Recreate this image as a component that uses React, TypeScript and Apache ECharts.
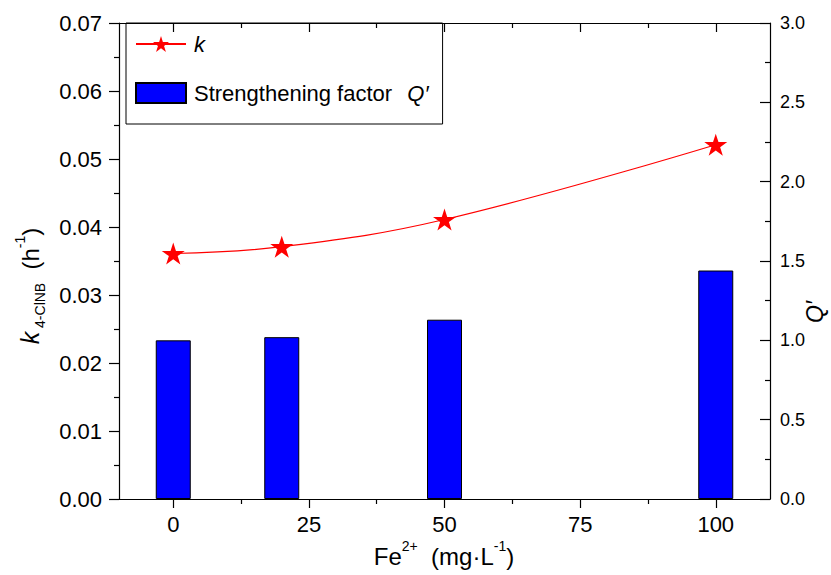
import React, { useEffect, useRef } from "react";
import * as echarts from "echarts";

const feConc = [0, 20, 50, 100];
const kValues = [0.0361, 0.0371, 0.0411, 0.0521];
const qValues = [1.0, 1.02, 1.13, 1.44];
const xMajorTicks = [0, 25, 50, 75, 100];
const xMinorTicks = [12.5, 37.5, 62.5, 87.5];

const FONT = 'Arial, "Liberation Sans", Helvetica, sans-serif';
const STAR =
  "path://M50 0L61.23 34.55L97.55 34.55L68.16 55.9L79.39 90.45L50 69.1L20.61 90.45L31.84 55.9L2.45 34.55L38.77 34.55Z";

export default function App() {
  const ref = useRef<HTMLDivElement>(null);
  useEffect(() => {
    if (!ref.current) return;
    const chart = echarts.init(ref.current, null, { renderer: "svg" });
    const baseX = {
      type: "value",
      min: -10,
      max: 110,
      gridIndex: 0,
      splitLine: { show: false },
    };
    chart.setOption({
      animation: false,
      backgroundColor: "#ffffff",
      grid: { left: 119, right: 61, top: 23, bottom: 76, containLabel: false },
      legend: {
        left: 126,
        top: 23,
        orient: "vertical",
        borderColor: "#000",
        borderWidth: 1,
        padding: [8, 14, 18, 9],
        itemGap: 23,
        itemWidth: 50,
        itemHeight: 20,
        data: [
          { name: "k" },
          { name: "Strengthening factor Q′", icon: "rect" },
        ],
        formatter: (name: string) =>
          name === "k" ? "{i|k}" : "{n|Strengthening factor  }{i|Q′}",
        textStyle: {
          fontFamily: FONT,
          fontSize: 22,
          color: "#000",
          lineHeight: 26,
          rich: {
            i: { fontFamily: FONT, fontSize: 22, fontStyle: "italic", color: "#000", padding: [0, 0, 0, 3] },
            n: { fontFamily: FONT, fontSize: 22, color: "#000", padding: [0, 0, 0, 3] },
          },
        },
      },
      xAxis: [
        {
          ...baseX,
          position: "bottom",
          axisLine: { show: true, onZero: false, lineStyle: { color: "#000", width: 1.2 } },
          axisTick: {
            show: true,
            inside: false,
            length: 9,
            customValues: xMajorTicks,
            lineStyle: { color: "#000", width: 1.2 },
          },
          axisLabel: {
            show: true,
            customValues: xMajorTicks,
            fontFamily: FONT,
            fontSize: 22,
            color: "#000",
            margin: 14,
          },
        },
        {
          ...baseX,
          position: "bottom",
          axisLine: { show: false, onZero: false },
          axisTick: {
            show: true,
            inside: false,
            length: 5,
            customValues: xMinorTicks,
            lineStyle: { color: "#000", width: 1.2 },
          },
          axisLabel: { show: false },
        },
        {
          ...baseX,
          position: "top",
          axisLine: { show: true, onZero: false, lineStyle: { color: "#000", width: 1.2 } },
          axisTick: {
            show: true,
            inside: true,
            length: 9,
            customValues: xMajorTicks,
            lineStyle: { color: "#000", width: 1.2 },
          },
          axisLabel: { show: false },
        },
        {
          ...baseX,
          position: "top",
          axisLine: { show: false, onZero: false },
          axisTick: {
            show: true,
            inside: true,
            length: 5,
            customValues: xMinorTicks,
            lineStyle: { color: "#000", width: 1.2 },
          },
          axisLabel: { show: false },
        },
      ],
      yAxis: [
        {
          type: "value",
          position: "left",
          min: 0,
          max: 0.07,
          interval: 0.01,
          splitLine: { show: false },
          axisLine: { show: true, onZero: false, lineStyle: { color: "#000", width: 1.2 } },
          axisTick: { show: true, inside: false, length: 10, lineStyle: { color: "#000", width: 1.2 } },
          minorTick: { show: true, splitNumber: 2, length: 5, lineStyle: { color: "#000", width: 1.2 } },
          minorSplitLine: { show: false },
          axisLabel: {
            fontFamily: FONT,
            fontSize: 22,
            color: "#000",
            margin: 17,
            formatter: (v: number) => v.toFixed(2),
          },
        },
        {
          type: "value",
          position: "right",
          min: 0,
          max: 3,
          interval: 0.5,
          splitLine: { show: false },
          axisLine: { show: true, onZero: false, lineStyle: { color: "#000", width: 1.2 } },
          axisTick: { show: true, inside: true, length: 10, lineStyle: { color: "#000", width: 1.2 } },
          minorTick: { show: true, splitNumber: 2, length: 5, lineStyle: { color: "#000", width: 1.2 } },
          minorSplitLine: { show: false },
          axisLabel: {
            fontFamily: FONT,
            fontSize: 18,
            color: "#000",
            margin: 10,
            formatter: (v: number) => v.toFixed(1),
          },
        },
      ],
      series: [
        {
          name: "Strengthening factor Q′",
          type: "bar",
          xAxisIndex: 0,
          yAxisIndex: 1,
          barWidth: 35,
          data: feConc.map((x, i) => [x, qValues[i]]),
          itemStyle: { color: "#0000ff", borderColor: "#000", borderWidth: 1 },
          z: 2,
        },
        {
          name: "k",
          type: "line",
          xAxisIndex: 0,
          yAxisIndex: 0,
          smooth: 0.4,
          symbol: STAR,
          symbolSize: [23, 22],
          data: feConc.map((x, i) => [x, kValues[i]]),
          lineStyle: { color: "#ff0000", width: 1.2 },
          itemStyle: { color: "#ff0000" },
          z: 3,
        },
      ],
      graphic: [
        {
          type: "text",
          x: 30,
          y: 286,
          rotation: Math.PI / 2,
          style: {
            text: "{ik|k}{sub| 4-ClNB}{n|  (h}{sup|-1}{n|)}",
            align: "center",
            verticalAlign: "middle",
            fill: "#000",
            rich: {
              ik: { fontFamily: FONT, fontSize: 25, fontStyle: "italic", fill: "#000", lineHeight: 34, verticalAlign: "middle" },
              n: { fontFamily: FONT, fontSize: 24, fill: "#000", lineHeight: 34, verticalAlign: "middle" },
              sub: { fontFamily: FONT, fontSize: 14, fill: "#000", lineHeight: 34, verticalAlign: "bottom" },
              sup: { fontFamily: FONT, fontSize: 14, fill: "#000", lineHeight: 34, verticalAlign: "top" },
            },
          },
        },
        {
          type: "text",
          x: 815,
          y: 312,
          rotation: Math.PI / 2,
          style: {
            text: "{i|Q′}",
            align: "center",
            verticalAlign: "middle",
            fill: "#000",
            rich: {
              i: { fontFamily: FONT, fontSize: 23, fontStyle: "italic", fill: "#000" },
            },
          },
        },
        {
          type: "text",
          x: 444,
          y: 556,
          style: {
            text: "{n|Fe}{sup|2+}{n|  (mg·L}{sup|-1}{n|)}",
            align: "center",
            verticalAlign: "middle",
            fill: "#000",
            rich: {
              n: { fontFamily: FONT, fontSize: 24, fill: "#000", lineHeight: 34, verticalAlign: "middle" },
              sup: { fontFamily: FONT, fontSize: 14, fill: "#000", lineHeight: 34, verticalAlign: "top" },
            },
          },
        },
      ],
    });
    return () => chart.dispose();
  }, []);
  return (
    <div
      ref={ref}
      style={{ position: "fixed", left: 0, top: 0, width: 831, height: 575, background: "#fff" }}
    />
  );
}
